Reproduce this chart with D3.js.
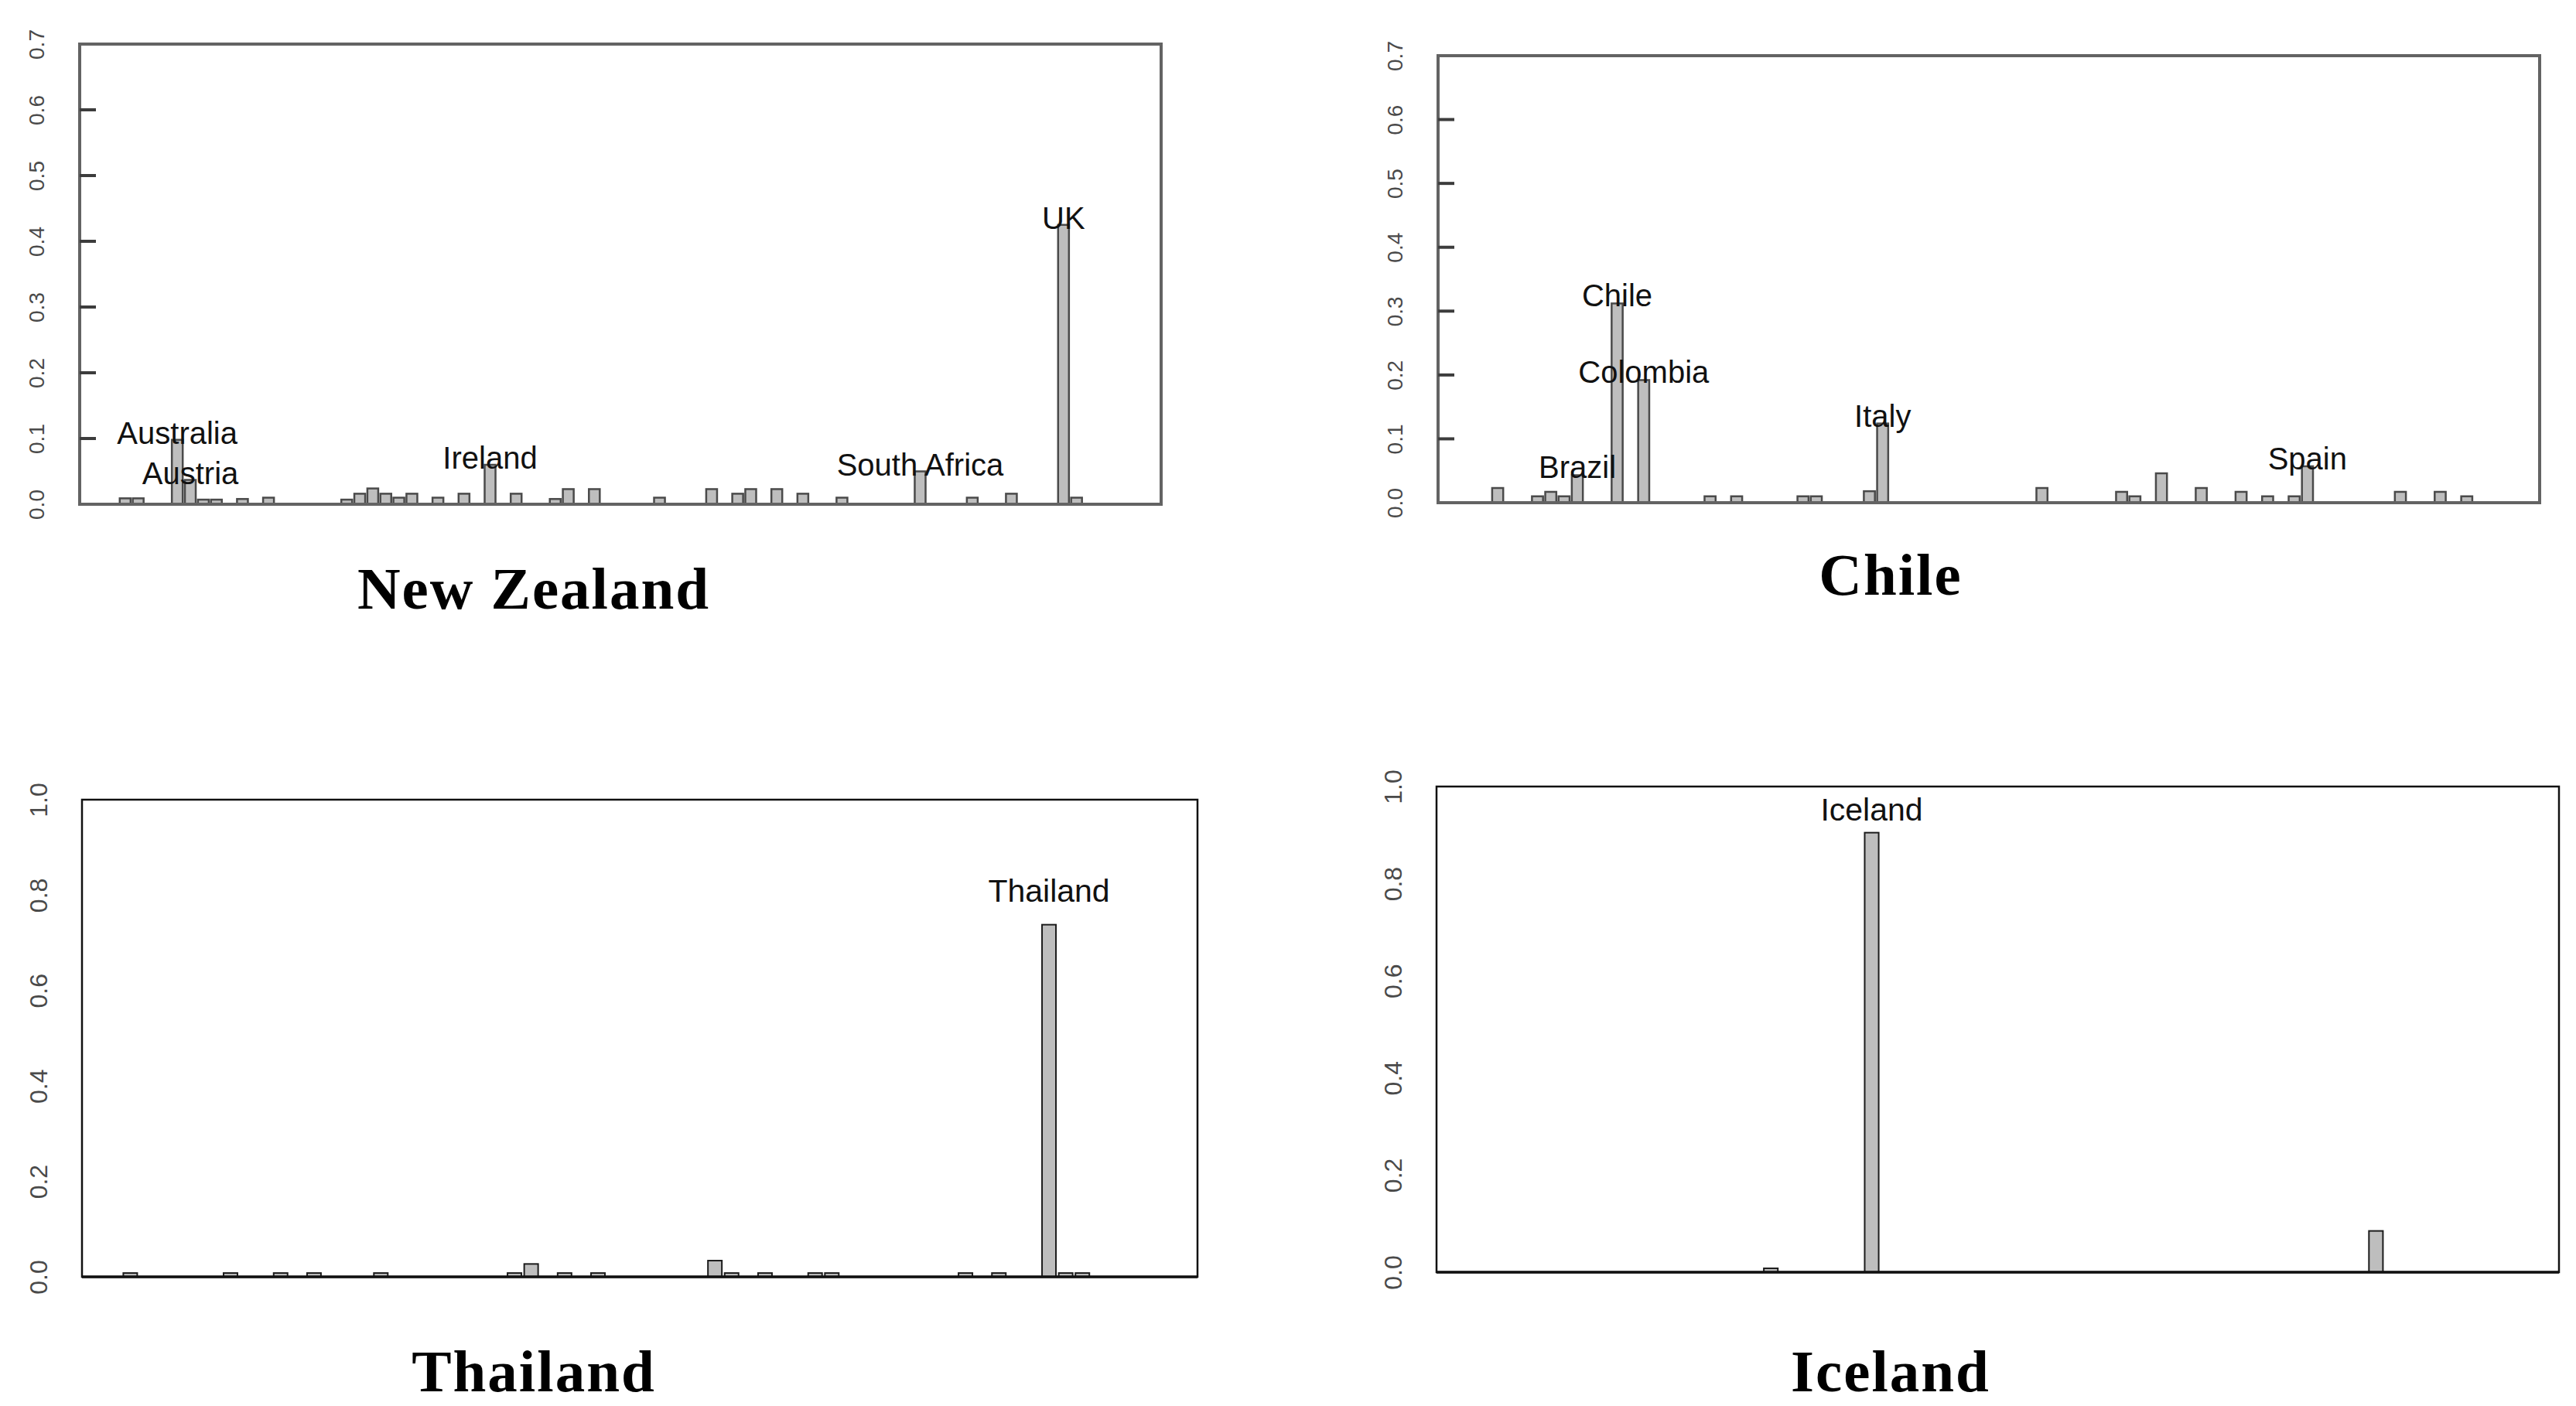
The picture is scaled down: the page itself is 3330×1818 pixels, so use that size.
<!DOCTYPE html>
<html>
<head>
<meta charset="utf-8">
<style>
body { margin: 0; background: #fff; }
.tick text { font-family: "Liberation Sans", Arial, sans-serif; fill: #4a4a4a; }
.bar-label { font-family: "Liberation Sans", Arial, sans-serif; fill: #111; }
.title { font-family: "Liberation Serif", "Times New Roman", serif; font-weight: bold; fill: #000; }
</style>
</head>
<body>
<svg width="3330" height="1818"></svg>
<script src="https://cdn.jsdelivr.net/npm/d3@7"></script>
<script>
// share per country slot (alphabetical slots, empty slots are 0)
var nzValues = [
  0.009, 0.009, 0, 0, 0.098, 0.037, 0.007, 0.007, 0, 0.008,
  0, 0.010, 0, 0, 0, 0, 0, 0.007, 0.016, 0.024,
  0.016, 0.010, 0.016, 0, 0.010, 0, 0.016, 0, 0.060, 0,
  0.016, 0, 0, 0.008, 0.023, 0, 0.023, 0, 0, 0,
  0, 0.010, 0, 0, 0, 0.023, 0, 0.016, 0.023, 0,
  0.023, 0, 0.016, 0, 0, 0.010, 0, 0, 0, 0,
  0, 0.050, 0, 0, 0, 0.010, 0, 0, 0.016, 0,
  0, 0, 0.425, 0.010, 0, 0, 0
];
var nzLabelSlots = [4, 5, 28, 61, 72];
var nzLabels = ["Australia", "Austria", "Ireland", "South Africa", "UK"];

var chileValues = [
  0, 0.023, 0, 0, 0.010, 0.017, 0.010, 0.043, 0, 0,
  0.312, 0, 0.192, 0, 0, 0, 0, 0.010, 0, 0.010,
  0, 0, 0, 0, 0.010, 0.010, 0, 0, 0, 0.018,
  0.124, 0, 0, 0, 0, 0, 0, 0, 0, 0,
  0, 0, 0.023, 0, 0, 0, 0, 0, 0.017, 0.010,
  0, 0.046, 0, 0, 0.023, 0, 0, 0.017, 0, 0.010,
  0, 0.010, 0.057, 0, 0, 0, 0, 0, 0, 0.017,
  0, 0, 0.017, 0, 0.010, 0, 0
];
var chileLabelSlots = [7, 10, 12, 30, 62];
var chileLabels = ["Brazil", "Chile", "Colombia", "Italy", "Spain"];

var thaiValues = [
  0.008, 0, 0, 0, 0, 0, 0.008, 0, 0, 0.008,
  0, 0.008, 0, 0, 0, 0.008, 0, 0, 0, 0,
  0, 0, 0, 0.008, 0.027, 0, 0.008, 0, 0.008, 0,
  0, 0, 0, 0, 0, 0.034, 0.008, 0, 0.008, 0,
  0, 0.008, 0.008, 0, 0, 0, 0, 0, 0, 0,
  0.008, 0, 0.008, 0, 0, 0.738, 0.008, 0.008, 0, 0,
  0, 0
];
var thaiLabelSlots = [55];
var thaiLabels = ["Thailand"];

var icelandValues = [
  0, 0, 0, 0, 0, 0, 0, 0, 0, 0,
  0, 0, 0, 0, 0, 0, 0, 0.008, 0, 0,
  0, 0, 0, 0.905, 0, 0, 0, 0, 0, 0,
  0, 0, 0, 0, 0, 0, 0, 0, 0, 0,
  0, 0, 0, 0, 0, 0, 0, 0, 0, 0,
  0, 0, 0, 0.085, 0, 0, 0, 0, 0, 0,
  0, 0
];
var icelandLabelSlots = [23];
var icelandLabels = ["Iceland"];

var ticksTop = [0, 0.1, 0.2, 0.3, 0.4, 0.5, 0.6, 0.7];
var ticksBottom = [0, 0.2, 0.4, 0.6, 0.8, 1.0];

var svg = d3.select("svg");
svg.append("rect").attr("width", 3330).attr("height", 1818).attr("fill", "#fff");

// panel layout + look (the top two are blurry grey scans, the bottom two crisp black)
var panels = [
  {title: "New Zealand", values: nzValues, slots: nzLabelSlots, labels: nzLabels, ticks: ticksTop, ymax: 0.7,
   left: 103, right: 1501, top: 57, bottom: 652, titleX: 690, titleY: 787, soft: true, labelUp: 9},
  {title: "Chile", values: chileValues, slots: chileLabelSlots, labels: chileLabels, ticks: ticksTop, ymax: 0.7,
   left: 1859, right: 3283, top: 72, bottom: 650, titleX: 2444, titleY: 769, soft: true, labelUp: 10},
  {title: "Thailand", values: thaiValues, slots: thaiLabelSlots, labels: thaiLabels, ticks: ticksBottom, ymax: 1.0,
   left: 106, right: 1548, top: 1034, bottom: 1651, titleX: 690, titleY: 1799, soft: false, labelUp: 44},
  {title: "Iceland", values: icelandValues, slots: icelandLabelSlots, labels: icelandLabels, ticks: ticksBottom, ymax: 1.0,
   left: 1857, right: 3308, top: 1017, bottom: 1645, titleX: 2444, titleY: 1799, soft: false, labelUp: 30}
];

panels.forEach(function(p) {
  var n = p.values.length;
  // R barplot: space 0.2, plus 4% padding of the bar range on each side
  var outer = 0.04 * (1.2 * n - 0.2) / 1.2;
  var x = d3.scaleBand()
      .domain(d3.range(n))
      .range([p.left, p.right])
      .paddingInner(0.2 / 1.2)
      .paddingOuter(outer);
  var y = d3.scaleLinear().domain([0, p.ymax]).range([p.bottom, p.top]);

  var g = svg.append("g");
  var frameCol = p.soft ? "#636363" : "#111";
  var barStroke = p.soft ? "#4a4a4a" : "#1c1c1c";

  g.selectAll("rect.bar")
    .data(p.values)
    .enter().append("rect")
      .attr("class", "bar")
      .attr("x", function(d, i) { return x(i); })
      .attr("width", x.bandwidth())
      .attr("y", function(d) { return y(d); })
      .attr("height", function(d) { return y(0) - y(d); })
      .attr("fill", "#bebebe")
      .attr("stroke", barStroke)
      .attr("stroke-width", p.soft ? 2.5 : 2);

  // frame
  g.append("rect")
      .attr("x", p.left).attr("y", p.top)
      .attr("width", p.right - p.left).attr("height", p.bottom - p.top)
      .attr("fill", "none")
      .attr("stroke", frameCol)
      .attr("stroke-width", p.soft ? 4 : 2.5);
  g.append("line")
      .attr("x1", p.left).attr("x2", p.right)
      .attr("y1", p.bottom).attr("y2", p.bottom)
      .attr("stroke", frameCol)
      .attr("stroke-width", p.soft ? 4 : 3.5);

  // inward tick marks (only the scanned top panels show them)
  if (p.soft) {
    g.selectAll("line.tickmark")
      .data(p.ticks.filter(function(t) { return t > 0 && t < p.ymax; }))
      .enter().append("line")
        .attr("class", "tickmark")
        .attr("x1", p.left).attr("x2", p.left + 21)
        .attr("y1", function(t) { return y(t); })
        .attr("y2", function(t) { return y(t); })
        .attr("stroke", "#3c3c3c")
        .attr("stroke-width", 4);
  }

  var axis = d3.axisLeft(y)
      .tickValues(p.ticks)
      .tickFormat(d3.format(".1f"))
      .tickSize(0);
  var ax = g.append("g")
      .attr("transform", "translate(" + p.left + ",0)")
      .call(axis);
  ax.select(".domain").remove();
  ax.selectAll(".tick line").remove();
  ax.selectAll(".tick text")
      .attr("transform", "rotate(-90)")
      .attr("x", 0)
      .attr("y", -56)
      .attr("dy", "0.35em")
      .attr("text-anchor", "middle")
      .style("font-size", p.soft ? "28px" : "32px");

  g.selectAll("text.bar-label")
    .data(p.slots)
    .enter().append("text")
      .attr("class", "bar-label")
      .attr("x", function(s) { return x(s) + x.bandwidth() / 2; })
      .attr("y", function(s) { return y(p.values[s]) - p.labelUp; })
      .attr("dy", "0.35em")
      .attr("text-anchor", "middle")
      .style("font-size", p.soft ? "40px" : "41px")
      .text(function(s, i) { return p.labels[i]; });

  g.append("text")
      .attr("class", "title")
      .attr("x", p.titleX)
      .attr("y", p.titleY)
      .attr("text-anchor", "middle")
      .style("font-size", "77px")
      .style("letter-spacing", "2px")
      .text(p.title);
});
</script>
</body>
</html>
